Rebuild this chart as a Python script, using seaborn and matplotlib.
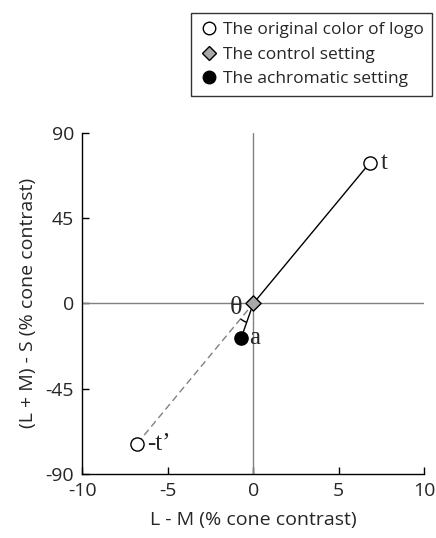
import numpy as np
import matplotlib
matplotlib.use("Agg")
import matplotlib.pyplot as plt
import seaborn as sns
from matplotlib.lines import Line2D
from matplotlib.patches import Arc

sns.set_style("ticks")
plt.rcParams['font.family'] = ['Open Sans', 'DejaVu Sans']
plt.rcParams['axes.unicode_minus'] = False

# data
orig_x = [6.8, -6.8]
orig_y = [74, -74]
orig_names = ["t", "-t\u2019"]
control_x = [0.0]
control_y = [0.0]
achrom_x = [-0.7]
achrom_y = [-18]
x_ticks = [-10, -5, 0, 5, 10]
y_ticks = [-90, -45, 0, 45, 90]

fig = plt.figure(figsize=(4.36, 5.38), dpi=100)
ax = fig.add_axes([0.189, 0.119, 0.784, 0.634])

ax.axhline(0, color="gray", lw=1, zorder=1)
ax.axvline(0, color="gray", lw=1, zorder=1)

# lines
sns.lineplot(x=[control_x[0], orig_x[0]], y=[control_y[0], orig_y[0]], color="black",
             lw=1, ax=ax, zorder=2)
sns.lineplot(x=[orig_x[1], control_x[0]], y=[orig_y[1], control_y[0]], color="gray",
             lw=1, ls=(0, (5, 3)), ax=ax, zorder=2)
sns.lineplot(x=[control_x[0], achrom_x[0]], y=[control_y[0], achrom_y[0]], color="black",
             lw=1, ax=ax, zorder=2)

# markers
sns.scatterplot(x=orig_x, y=orig_y, marker="o", s=90, facecolor="white",
                edgecolor="black", linewidth=1, ax=ax, zorder=3)
sns.scatterplot(x=control_x, y=control_y, marker="D", s=60, facecolor="#a8a8a8",
                edgecolor="black", linewidth=1, ax=ax, zorder=3)
sns.scatterplot(x=achrom_x, y=achrom_y, marker="o", s=90, facecolor="black",
                edgecolor="black", linewidth=1, ax=ax, zorder=3)

serif = "Liberation Serif"
ax.text(orig_x[0] + 0.65, orig_y[0], orig_names[0], fontsize=18, family=serif,
        va="center", ha="left")
ax.text(orig_x[1] + 0.6, orig_y[1], orig_names[1], fontsize=18, family=serif,
        va="center", ha="left")
ax.text(achrom_x[0] + 0.45, achrom_y[0], "a", fontsize=18, family=serif,
        va="center", ha="left")
ax.text(-1.0, -2.5, "\u03b8", fontsize=19, family=serif, va="center", ha="center")

# angle arc between the dashed line and the line to a (angles in data units)
a1 = np.degrees(np.arctan2(orig_y[1], orig_x[1])) % 360
a2 = np.degrees(np.arctan2(achrom_y[0], achrom_x[0])) % 360
ax.add_patch(Arc((0, 0), 2 * 20 / 17.15, 2 * 20 / 1.894, theta1=min(a1, a2),
                 theta2=max(a1, a2), color="black", lw=1, zorder=2))

ax.set_xlim(-10, 10)
ax.set_ylim(-90, 90)
ax.set_xticks(x_ticks)
ax.set_yticks(y_ticks)
ax.tick_params(direction="in", length=5, width=1, labelsize=14, pad=6, color="black")
ax.set_xlabel("L - M (% cone contrast)", fontsize=14, labelpad=8)
ax.set_ylabel("(L + M) - S (% cone contrast)", fontsize=14, labelpad=6)
for s in ["top", "right"]:
    ax.spines[s].set_visible(False)
for s in ["left", "bottom"]:
    ax.spines[s].set_linewidth(1)
    ax.spines[s].set_color("black")

handles = [
    Line2D([], [], marker="o", ls="", markersize=9, markerfacecolor="white",
           markeredgecolor="black", label="The original color of logo"),
    Line2D([], [], marker="D", ls="", markersize=7, markerfacecolor="#a8a8a8",
           markeredgecolor="black", label="The control setting"),
    Line2D([], [], marker="o", ls="", markersize=9, markerfacecolor="black",
           markeredgecolor="black", label="The achromatic setting"),
]
leg = fig.legend(handles=handles, loc="upper right", bbox_to_anchor=(0.991, 0.976),
                 frameon=True, fancybox=False, edgecolor="black", fontsize=12.5,
                 handletextpad=0.3, handlelength=1.0, borderpad=0.5, labelspacing=0.5,
                 borderaxespad=0)
leg.get_frame().set_linewidth(1)

fig.savefig("out.png", dpi=100)
